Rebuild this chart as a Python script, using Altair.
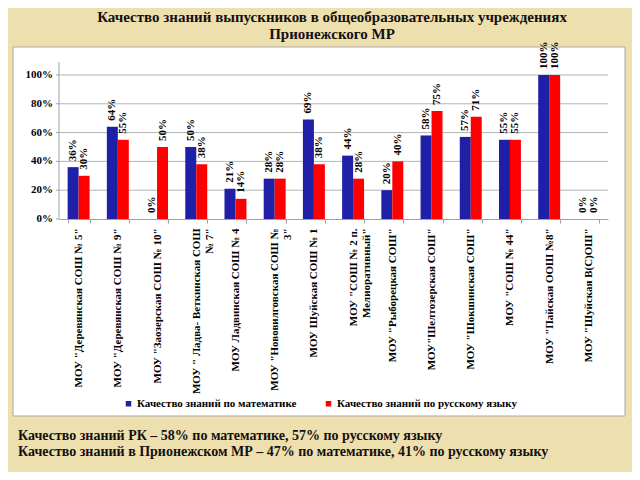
import altair as alt
import pandas as pd

schools = [
    "МОУ \"Деревянская СОШ № 5\"",
    "МОУ \"Деревянская СОШ № 9\"",
    "МОУ \"Заозерская СОШ № 10\"",
    "МОУ \" Ладва- Веткинская СОШ\n№ 7\"",
    "МОУ Ладвинская СОШ № 4",
    "МОУ \"Нововилговская СОШ №\n3\"",
    "МОУ Шуйская СОШ № 1",
    "МОУ \"СОШ № 2 п.\nМелиоративный\"",
    "МОУ \"Рыборецкая СОШ\"",
    "МОУ\"Шелтозерская СОШ\"",
    "МОУ \"Шокшинская СОШ\"",
    "МОУ \"СОШ № 44\"",
    "МОУ \"Пайская ООШ №8\"",
    "МОУ \"Шуйская В(С)ОШ\"",
]
math = [0.36, 0.64, 0.00, 0.50, 0.21, 0.28, 0.69, 0.44, 0.20, 0.58, 0.57, 0.55, 1.00, 0.00]
russian = [0.30, 0.55, 0.50, 0.38, 0.14, 0.28, 0.38, 0.28, 0.40, 0.75, 0.71, 0.55, 1.00, 0.00]
series_names = ["Качество знаний по математике", "Качество знаний по русскому языку"]
series_colors = ["#1f1fa8", "#ff0000"]
y_ticks = [0, 0.2, 0.4, 0.6, 0.8, 1.0]
title_lines = [
    "Качество знаний выпускников в общеобразовательных учреждениях",
    "Прионежского МР",
]
notes = [
    "Качество знаний РК – 58% по математике, 57% по русскому языку",
    "Качество знаний в Прионежском МР – 47% по математике, 41% по русскому языку",
]

rows = []
for i, s in enumerate(schools):
    rows.append({"school": s, "series": series_names[0], "value": math[i]})
    rows.append({"school": s, "series": series_names[1], "value": russian[i]})
df = pd.DataFrame(rows)
ticks_df = pd.DataFrame({"value": y_ticks})

FONT = "Liberation Serif"
BEIGE = "#eedfae"
AXIS_GREY = "#a0a0a0"
W, H = 549, 157
yscale = alt.Scale(domain=[0, 1.09], nice=False)
xscale = alt.Scale(paddingInner=0.44, paddingOuter=0.22)

one = pd.DataFrame({"a": [0]})


def band(x1, x2, y1, y2):
    return alt.Chart(one).mark_rect(fill=BEIGE).encode(
        x=alt.value(x1), x2=alt.value(x2), y=alt.value(y1), y2=alt.value(y2)
    )


frame = [
    band(-51, 573, -54, -15),
    band(-51, 573, 354, 410),
    band(-51, -46, -15, 354),
    band(566, 573, -15, 354),
    alt.Chart(one).mark_rect(fillOpacity=0, stroke="#a8a8a8", strokeWidth=1).encode(
        x=alt.value(-46), x2=alt.value(566), y=alt.value(-15), y2=alt.value(354)
    ),
]

# horizontal grid lines and y axis (drawn from the y scale)
grid = alt.Chart(ticks_df).transform_filter("datum.value > 0").mark_rule(
    color="#b4b4b4", strokeWidth=1
).encode(
    y=alt.Y("value:Q", scale=yscale, axis=None),
    x=alt.value(0),
    x2=alt.value(W),
)
y_ticks_marks = alt.Chart(ticks_df).mark_rule(color=AXIS_GREY, strokeWidth=1).encode(
    y=alt.Y("value:Q", scale=yscale, axis=None),
    x=alt.value(-3),
    x2=alt.value(0),
)
y_domain = alt.Chart(one).mark_rule(color=AXIS_GREY, strokeWidth=1).encode(
    x=alt.value(0), y=alt.value(0), y2=alt.value(H)
)
y_labels = alt.Chart(ticks_df).mark_text(
    align="right", baseline="middle", font=FONT, fontSize=11, fontWeight="bold", color="black"
).encode(
    y=alt.Y("value:Q", scale=yscale, axis=None),
    x=alt.value(-6),
    text=alt.Text("value:Q", format=".0%"),
)

x_enc = alt.X(
    "school:N",
    sort=schools,
    scale=xscale,
    axis=alt.Axis(
        title=None,
        labelAngle=270,
        labelFont=FONT,
        labelFontSize=11,
        labelFontWeight="bold",
        labelColor="black",
        labelExpr="split(datum.label, '\\n')",
        labelPadding=5,
        labelLimit=200,
        tickBand="extent",
        tickSize=4,
        tickColor=AXIS_GREY,
        domainColor=AXIS_GREY,
        zindex=1,
    ),
)

bars = alt.Chart(df).mark_bar().encode(
    x=x_enc,
    xOffset=alt.XOffset("series:N", sort=series_names),
    y=alt.Y("value:Q", scale=yscale, axis=None),
    color=alt.Color(
        "series:N",
        sort=series_names,
        scale=alt.Scale(domain=series_names, range=series_colors),
        legend=alt.Legend(
            title=None,
            orient="none",
            legendX=64,
            legendY=336,
            direction="horizontal",
            symbolType="square",
            symbolSize=30,
            symbolStrokeWidth=0,
            labelFont=FONT,
            labelFontSize=11,
            labelFontWeight="bold",
            labelColor="black",
            labelOffset=3,
            labelLimit=300,
            columnPadding=26,
        ),
    ),
)

labels = alt.Chart(df).mark_text(
    angle=270, align="left", baseline="middle", dx=6,
    font=FONT, fontSize=11, fontWeight="bold", color="black",
).encode(
    x=alt.X("school:N", sort=schools, scale=xscale),
    xOffset=alt.XOffset("series:N", sort=series_names),
    y=alt.Y("value:Q", scale=yscale, axis=None),
    text=alt.Text("value:Q", format=".0%"),
)


def txt(s, x, y, size, align):
    return alt.Chart(pd.DataFrame({"t": [s]})).mark_text(
        font=FONT, fontSize=size, fontWeight="bold", color="#111111",
        align=align, baseline="middle",
    ).encode(text="t:N", x=alt.value(x), y=alt.value(y))


title1 = txt(title_lines[0], 273, -45, 15, "center")
title2 = txt(title_lines[1], 273, -28, 15, "center")
note1 = txt(notes[0], -41, 374, 14, "left")
note2 = txt(notes[1], -41, 390, 14, "left")

chart = alt.layer(
    *frame, grid, y_ticks_marks, y_domain, y_labels, bars, labels,
    title1, title2, note1, note2,
).properties(
    width=W,
    height=H,
    autosize=alt.AutoSizeParams(type="none"),
    padding={"left": 51, "top": 54, "right": 24, "bottom": 253},
    background="white",
).configure_view(strokeWidth=0)

chart.save("out.html", embed_options={"renderer": "svg", "actions": False})
